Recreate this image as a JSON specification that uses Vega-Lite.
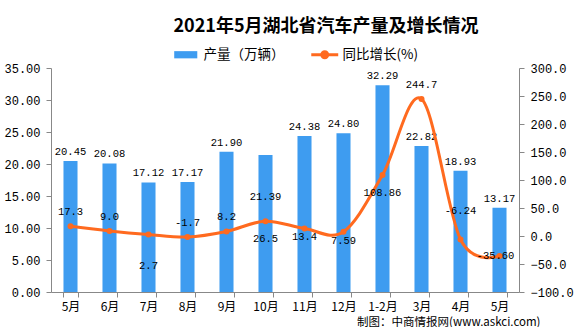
{
  "$schema": "https://vega.github.io/schema/vega-lite/v6.json",
  "width": 468,
  "height": 224,
  "autosize": {"type": "none"},
  "padding": {"left": 51, "top": 68, "right": 57, "bottom": 35},
  "background": "white",
  "title": {
    "text": "2021年5月湖北省汽车产量及增长情况",
    "font": "Noto Sans CJK SC",
    "fontSize": 18,
    "fontWeight": "bold",
    "color": "#000000",
    "anchor": "middle",
    "dx": 41,
    "offset": 12
  },
  "data": {
    "values": [
      {"month": "5月", "output": 20.45, "growth": 17.3, "glabel": "17.3"},
      {"month": "6月", "output": 20.08, "growth": 9.0, "glabel": "9.0"},
      {"month": "7月", "output": 17.12, "growth": 2.7, "glabel": "2.7"},
      {"month": "8月", "output": 17.17, "growth": -1.7, "glabel": "-1.7"},
      {"month": "9月", "output": 21.90, "growth": 8.2, "glabel": "8.2"},
      {"month": "10月", "output": 21.39, "growth": 26.5, "glabel": "26.5"},
      {"month": "11月", "output": 24.38, "growth": 13.4, "glabel": "13.4"},
      {"month": "12月", "output": 24.80, "growth": 7.59, "glabel": "7.59"},
      {"month": "1-2月", "output": 32.29, "growth": 108.86, "glabel": "108.86"},
      {"month": "3月", "output": 22.82, "growth": 244.7, "glabel": "244.7"},
      {"month": "4月", "output": 18.93, "growth": -6.24, "glabel": "-6.24"},
      {"month": "5月\u200b", "output": 13.17, "growth": -35.60, "glabel": "-35.60"}
    ]
  },
  "encoding": {
    "x": {
      "field": "month",
      "type": "nominal",
      "sort": null,
      "scale": {"paddingInner": 0.64, "paddingOuter": 0.32},
      "axis": {
        "title": "制图：中商情报网(www.askci.com)",
        "titleFont": "Noto Sans CJK SC",
        "titleFontSize": 11.5,
        "titleFontWeight": "normal",
        "titleColor": "#000000",
        "titleAlign": "right",
        "titleX": 489,
        "titleY": 30,
        "titleBaseline": "middle",
        "labelAngle": 0,
        "labelFont": "Noto Sans CJK SC",
        "labelFontSize": 12,
        "labelColor": "#000000",
        "labelPadding": 4,
        "tickBand": "extent",
        "tickSize": 5,
        "tickColor": "#888888",
        "domainColor": "#888888"
      }
    }
  },
  "layer": [
    {
      "mark": {"type": "bar", "color": "#3E9CF0"},
      "encoding": {
        "y": {
          "field": "output",
          "type": "quantitative",
          "scale": {"domain": [0, 35], "nice": false},
          "axis": {
            "orient": "left",
            "title": null,
            "grid": false,
            "values": [0, 5, 10, 15, 20, 25, 30, 35],
            "format": ".2f",
            "labelFont": "Liberation Mono",
            "labelFontSize": 12,
            "labelColor": "#000000",
            "labelPadding": 6,
            "tickSize": 5,
            "tickColor": "#888888",
            "domainColor": "#888888"
          }
        },
        "fill": {
          "datum": "产量（万辆）",
          "type": "nominal",
          "scale": {"range": ["#3E9CF0"]},
          "legend": {
            "orient": "none",
            "legendX": 128,
            "legendY": -20,
            "title": null,
            "padding": 0,
            "symbolType": "M-3.2,-1H3.2V1H-3.2Z",
            "symbolSize": 52,
            "symbolStrokeWidth": 0,
            "labelOffset": 11,
            "labelFont": "Noto Sans CJK SC",
            "labelFontSize": 13.5,
            "labelColor": "#000000"
          }
        }
      }
    },
    {
      "transform": [{"filter": {"not": {"field": "month", "equal": "10月"}}}],
      "mark": {"type": "text", "font": "Liberation Mono", "fontSize": 10.5, "baseline": "bottom", "dy": -4, "color": "#000000"},
      "encoding": {
        "y": {"field": "output", "type": "quantitative", "scale": {"domain": [0, 35], "nice": false}, "axis": null},
        "text": {"field": "output", "type": "quantitative", "format": ".2f"}
      }
    },
    {
      "transform": [{"filter": {"field": "month", "equal": "10月"}}],
      "mark": {"type": "text", "font": "Liberation Mono", "fontSize": 10.5, "baseline": "middle", "dy": 42, "color": "#000000"},
      "encoding": {
        "y": {"field": "output", "type": "quantitative", "scale": {"domain": [0, 35], "nice": false}, "axis": null},
        "text": {"field": "output", "type": "quantitative", "format": ".2f"}
      }
    },
    {
      "mark": {"type": "line", "interpolate": "cardinal", "tension": 0, "strokeWidth": 3, "color": "#FF6A1F"},
      "encoding": {
        "y": {
          "field": "growth",
          "type": "quantitative",
          "scale": {"domain": [-100, 300], "nice": false},
          "axis": {
            "orient": "right",
            "title": null,
            "grid": false,
            "values": [-100, -50, 0, 50, 100, 150, 200, 250, 300],
            "format": ".1f",
            "labelFont": "Liberation Mono",
            "labelFontSize": 12,
            "labelColor": "#000000",
            "labelPadding": 6,
            "tickSize": 5,
            "tickColor": "#888888",
            "domainColor": "#888888"
          }
        },
        "stroke": {
          "datum": "同比增长(%)",
          "type": "nominal",
          "scale": {"range": ["#FF6A1F"]},
          "legend": {
            "orient": "none",
            "legendX": 267,
            "legendY": -20,
            "title": null,
            "padding": 0,
            "symbolType": "M-3.2,0H3.2M0.7,0A0.7,0.7,0,1,1,-0.7,0A0.7,0.7,0,1,1,0.7,0",
            "symbolSize": 71,
            "symbolStrokeWidth": 3,
            "symbolFillColor": "#FF6A1F",
            "labelOffset": 11,
            "labelFont": "Noto Sans CJK SC",
            "labelFontSize": 13.5,
            "labelColor": "#000000"
          }
        }
      }
    },
    {
      "mark": {"type": "point", "filled": true, "size": 36, "color": "#FF6A1F", "opacity": 1},
      "encoding": {"y": {"field": "growth", "type": "quantitative", "scale": {"domain": [-100, 300], "nice": false}, "axis": null}}
    },
    {
      "transform": [{"filter": {"field": "month", "oneOf": ["5月", "6月", "8月", "9月", "3月"]}}],
      "mark": {"type": "text", "font": "Liberation Mono", "fontSize": 10.5, "baseline": "middle", "dy": -14, "color": "#000000"},
      "encoding": {"y": {"field": "growth", "type": "quantitative", "scale": {"domain": [-100, 300], "nice": false}, "axis": null}, "text": {"field": "glabel"}}
    },
    {
      "transform": [{"filter": {"field": "month", "equal": "4月"}}],
      "mark": {"type": "text", "font": "Liberation Mono", "fontSize": 10.5, "baseline": "middle", "dy": -28, "color": "#000000"},
      "encoding": {"y": {"field": "growth", "type": "quantitative", "scale": {"domain": [-100, 300], "nice": false}, "axis": null}, "text": {"field": "glabel"}}
    },
    {
      "transform": [{"filter": {"field": "month", "oneOf": ["11月", "12月"]}}],
      "mark": {"type": "text", "font": "Liberation Mono", "fontSize": 10.5, "baseline": "middle", "dy": 9, "color": "#000000"},
      "encoding": {"y": {"field": "growth", "type": "quantitative", "scale": {"domain": [-100, 300], "nice": false}, "axis": null}, "text": {"field": "glabel"}}
    },
    {
      "transform": [{"filter": {"field": "month", "oneOf": ["10月", "1-2月"]}}],
      "mark": {"type": "text", "font": "Liberation Mono", "fontSize": 10.5, "baseline": "middle", "dy": 18, "color": "#000000"},
      "encoding": {"y": {"field": "growth", "type": "quantitative", "scale": {"domain": [-100, 300], "nice": false}, "axis": null}, "text": {"field": "glabel"}}
    },
    {
      "transform": [{"filter": {"field": "month", "equal": "7月"}}],
      "mark": {"type": "text", "font": "Liberation Mono", "fontSize": 10.5, "baseline": "middle", "dy": 32, "color": "#000000"},
      "encoding": {"y": {"field": "growth", "type": "quantitative", "scale": {"domain": [-100, 300], "nice": false}, "axis": null}, "text": {"field": "glabel"}}
    },
    {
      "transform": [{"filter": {"field": "month", "equal": "5月\u200b"}}],
      "mark": {"type": "text", "font": "Liberation Mono", "fontSize": 10.5, "baseline": "middle", "dy": 0, "dx": -4, "color": "#000000"},
      "encoding": {"y": {"field": "growth", "type": "quantitative", "scale": {"domain": [-100, 300], "nice": false}, "axis": null}, "text": {"field": "glabel"}}
    }
  ],
  "resolve": {"scale": {"y": "independent"}},
  "config": {"view": {"stroke": null}}
}
